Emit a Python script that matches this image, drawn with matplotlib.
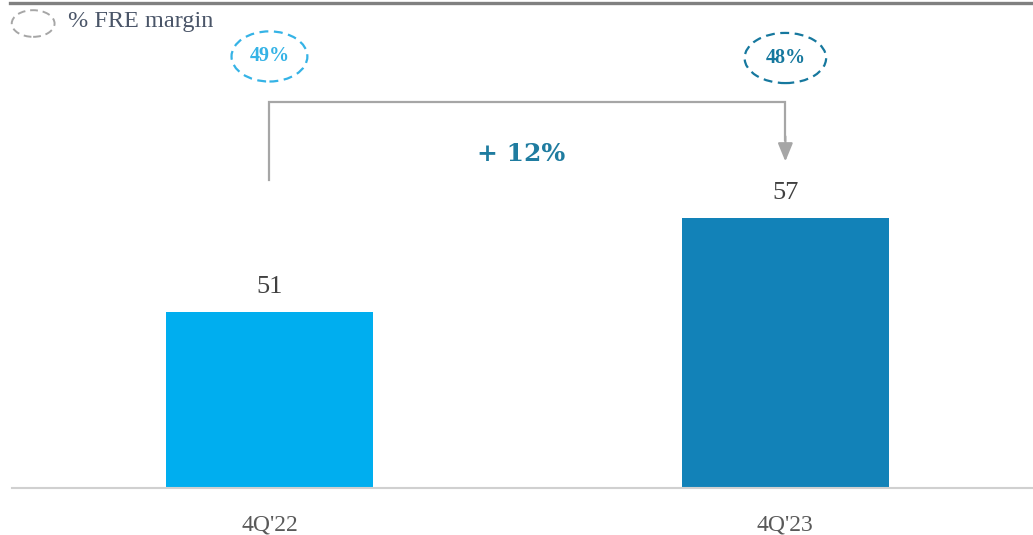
import matplotlib.pyplot as plt
from matplotlib.patches import Ellipse
from matplotlib.lines import Line2D

categories = ["4Q'22", "4Q'23"]
values = [51, 57]
margins = ["49%", "48%"]
growth = "+ 12%"

bar_colors = ["#00aeef", "#1282b8"]
margin_colors = ["#35b3e6", "#16789e"]

plt.rcParams['font.family'] = ['Liberation Serif', 'DejaVu Serif']

fig = plt.figure(figsize=(10.33, 5.35), dpi=100)
ax = fig.add_axes([12 / 1033, 47 / 535, 1021 / 1033, 488 / 535])

x = list(range(len(categories)))
ax.bar(x, values, width=0.401, color=bar_colors, zorder=2)
ax.set_xlim(-0.499, 1.48)
ax.set_ylim(39.77, 70.9)

for xi, v in zip(x, values):
    ax.annotate(str(v), (xi, v), xytext=(0, 10), textcoords='offset points',
                ha='center', va='bottom', fontsize=19, color='#404040')

# margin bubbles
for xi, m, c in zip(x, margins, margin_colors):
    w = 0.147 if xi == 0 else 0.158
    ax.add_patch(Ellipse((xi, 67.3 - 0.1 * xi), w, 3.2, fill=False, edgecolor=c,
                         lw=1.6, linestyle=(0, (4, 2.5)), clip_on=False))
    ax.text(xi, 67.3 - 0.1 * xi, m, ha='center', va='center', fontsize=14.5,
            fontweight='bold', color=c)

# growth bracket
ax.plot([0, 0, 1, 1], [59.4, 64.4, 64.4, 62.0], color='#a6a6a6', lw=1.6,
        solid_joinstyle='miter')
ax.annotate('', xy=(1, 60.6), xytext=(1, 62.2),
            arrowprops=dict(arrowstyle='-|>,head_width=0.45,head_length=1.1',
                            color='#a6a6a6', lw=1.6, shrinkA=0, shrinkB=0))
ax.text(0.487, 61.1, growth, ha='center', va='center', fontsize=18,
        fontweight='bold', color='#1f7ca0', family=['DejaVu Serif'])

# legend
ax.add_patch(Ellipse((-0.458, 69.4), 0.083, 1.7, fill=False, edgecolor='#a6a6a6',
                     lw=1.4, linestyle=(0, (4, 2.5)), clip_on=False))
ax.text(-0.39, 69.5, "% FRE margin", ha='left', va='center', fontsize=17.5,
        color='#4a5568')

ax.set_xticks(x)
ax.set_xticklabels(categories, fontsize=17, color='#595959')
ax.tick_params(axis='x', length=0, pad=19)
ax.set_yticks([])
for s in ['top', 'right', 'left']:
    ax.spines[s].set_visible(False)
ax.spines['bottom'].set_color('#d0d0d0')
ax.spines['bottom'].set_linewidth(1.5)

fig.add_artist(Line2D([10 / 1033, 1], [1 - 3 / 535, 1 - 3 / 535], color='#808080',
                      lw=2.4, transform=fig.transFigure))

fig.savefig('out.png', dpi=100)
